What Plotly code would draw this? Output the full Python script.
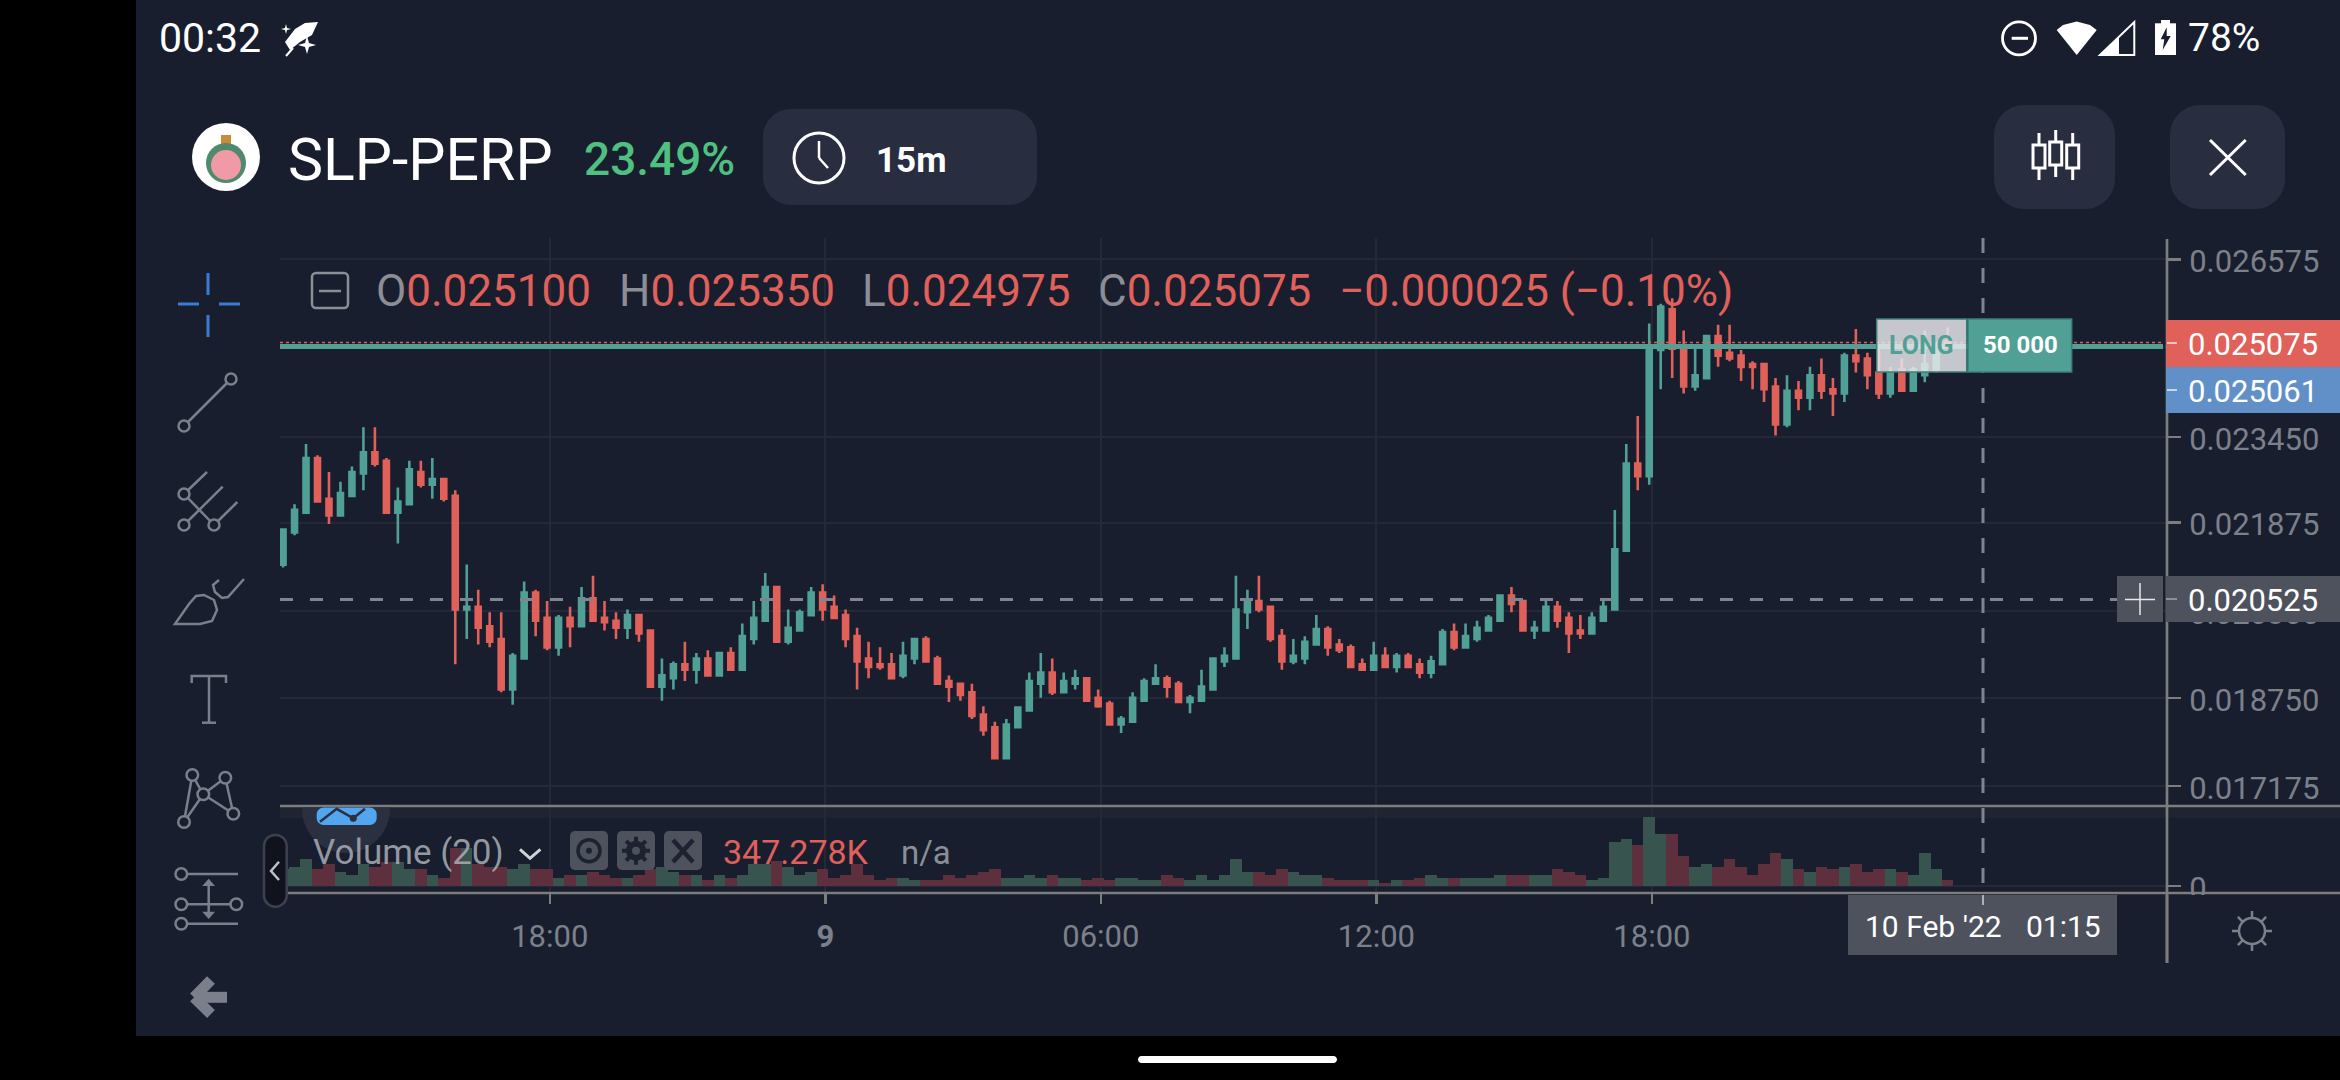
import math
import pandas as pd
from plotly.graph_objs import Figure, Candlestick, Bar

W, H = 2340, 1080
BG = '#181e2e'
BUTTON = '#282d40'
AXIS = '#7d7d7d'
GRID = '#232937'
GREY = '#8b8e96'
TICK_GREY = '#7c808a'
RED = '#e0605a'
GREEN = '#50a095'
BLUE = '#6190c8'
PANEL = '#4d525d'

# prices in millionths
OPEN = [
    21125, 21700, 22050, 23025, 22300, 22000, 22350, 22750, 23125, 22975,
    22050, 22200, 22775, 22550, 22650, 22350, 20325, 20375, 20025, 19800,
    18900, 19450, 20625, 20175, 19650, 20175, 20025, 20525, 20175, 20125,
    20000, 20225, 19950, 18950, 19100, 19350, 19250, 19450, 19150, 19550,
    19250, 19800, 20125, 20725, 19750, 19950, 20225, 20625, 20375, 20225,
    19850, 19450, 19350, 19350, 19150, 19450, 19800, 19450, 19050, 19000,
    18850, 18450, 18225, 17675, 18225, 18525, 19000, 19200, 18850, 19000,
    19100, 18750, 18650, 18275, 18325, 18700, 19000, 19100, 19000, 18675,
    18700, 18900, 19400, 19450, 20275, 20475, 20375, 19850, 19400, 19450,
    19700, 19975, 19700, 19650, 19350, 19250, 19500, 19300, 19500, 19350,
    19200, 19350, 19925, 19650, 19800, 19950, 20125, 20575, 20475, 19950,
    19950, 20375, 20175, 19950, 19900, 20125, 20325, 21375, 22925, 22700,
    24950, 25675, 25000, 24300, 24450, 25200, 24900, 24850, 24700, 24700,
    24300, 23625, 24225, 24100, 24500, 24250, 24175, 24850, 24800, 24550,
    24175, 24600, 24225, 24500, 24600, 25100,
]
HIGH = [
    21750, 22200, 23275, 23075, 22775, 22600, 22875, 23575, 23575, 23025,
    22500, 22975, 22975, 23025, 22675, 22450, 21125, 20675, 20275, 20275,
    19550, 20825, 20675, 20475, 20225, 20375, 20725, 20925, 20475, 20275,
    20325, 20225, 19950, 19450, 19400, 19750, 19550, 19600, 19550, 19650,
    20075, 20475, 20975, 20725, 20325, 20325, 20725, 20775, 20575, 20325,
    20000, 19750, 19650, 19550, 19750, 19800, 19850, 19500, 19150, 19000,
    19000, 18600, 18325, 18375, 18600, 19200, 19550, 19450, 19200, 19250,
    19100, 18900, 18700, 18425, 18850, 19100, 19350, 19150, 19050, 18800,
    19250, 19450, 19650, 20925, 20675, 20925, 20375, 19975, 19800, 19850,
    20225, 20025, 19800, 19700, 19450, 19750, 19650, 19550, 19550, 19450,
    19500, 19975, 20075, 20075, 20125, 20225, 20575, 20725, 20475, 20125,
    20525, 20475, 20275, 20225, 20275, 20475, 22100, 23275, 23775, 25425,
    25775, 25875, 25300, 25000, 25200, 25400, 25400, 24950, 24750, 24700,
    24450, 24500, 24400, 24650, 24800, 24450, 24900, 25325, 24900, 24975,
    24650, 24800, 24650, 25300, 25075, 25350,
]
LOW = [
    21075, 21650, 22050, 22250, 21850, 22000, 22350, 22450, 22875, 22050,
    21500, 22200, 22500, 22300, 22250, 19350, 19800, 19700, 19650, 18850,
    18625, 19450, 19850, 19600, 19500, 19650, 20025, 20100, 19950, 19800,
    19800, 19750, 18950, 18700, 18900, 19050, 19000, 19150, 19150, 19250,
    19250, 19700, 20125, 19750, 19700, 19950, 20225, 20125, 20175, 19650,
    18900, 19100, 19250, 19100, 19100, 19350, 19400, 19000, 18675, 18700,
    18375, 18075, 17675, 17675, 18225, 18525, 18750, 18800, 18850, 18900,
    18700, 18575, 18275, 18125, 18325, 18700, 19000, 18750, 18675, 18475,
    18700, 18900, 19300, 19450, 19975, 20275, 19750, 19250, 19350, 19350,
    19700, 19500, 19550, 19300, 19250, 19250, 19300, 19200, 19300, 19100,
    19100, 19350, 19600, 19650, 19750, 19950, 20125, 20275, 19950, 19800,
    19950, 20000, 19550, 19800, 19900, 20125, 20325, 21375, 22450, 22550,
    24250, 24450, 24175, 24225, 24450, 24650, 24750, 24400, 24250, 24025,
    23425, 23575, 23875, 23875, 24075, 23775, 24025, 24550, 24250, 24075,
    24100, 24225, 24225, 24375, 24550, 24975,
]
CLOSE = [
    21750, 22100, 23025, 22250, 22000, 22400, 22775, 23125, 22925, 22050,
    22250, 22825, 22550, 22650, 22300, 20325, 20375, 20000, 19750, 18900,
    19500, 20625, 20125, 19650, 20175, 20025, 20525, 20125, 20100, 20000,
    20225, 19900, 18950, 19150, 19350, 19250, 19450, 19150, 19550, 19250,
    19850, 20175, 20725, 19750, 20000, 20275, 20625, 20325, 20175, 19800,
    19400, 19300, 19300, 19100, 19500, 19800, 19400, 19000, 18950, 18800,
    18425, 18175, 17675, 18275, 18575, 19050, 19200, 18850, 19050, 19100,
    18700, 18600, 18275, 18375, 18750, 19050, 19100, 18950, 18675, 18750,
    18950, 19450, 19500, 20325, 20475, 20325, 19800, 19400, 19500, 19750,
    19975, 19650, 19600, 19300, 19250, 19500, 19300, 19500, 19300, 19200,
    19400, 19925, 19650, 19850, 20000, 20175, 20575, 20425, 19950, 20000,
    20375, 20125, 19900, 19900, 20175, 20375, 21400, 22925, 22700, 25000,
    25725, 24975, 24300, 24500, 25200, 24850, 24800, 24650, 24650, 24250,
    23625, 24225, 24100, 24500, 24225, 24175, 24850, 24750, 24500, 24175,
    24550, 24225, 24600, 24700, 24950, 25075,
]
# volume in thousands
VOLUME = [
    1020, 1183, 1673, 1020, 1326, 857, 673, 1326, 1163, 1469,
    1469, 1020, 1020, 673, 510, 2346, 2346, 1326, 1163, 1163,
    1020, 1326, 1020, 1020, 510, 673, 673, 857, 673, 510,
    510, 673, 1020, 1163, 857, 673, 673, 347, 673, 510,
    673, 1326, 1326, 1510, 1163, 673, 857, 1020, 510, 673,
    1326, 673, 347, 510, 510, 347, 347, 347, 673, 510,
    673, 857, 1020, 510, 510, 673, 510, 673, 510, 510,
    347, 510, 347, 510, 510, 347, 347, 673, 510, 347,
    673, 347, 673, 1673, 857, 857, 673, 1020, 857, 673,
    673, 510, 347, 347, 347, 347, 163, 347, 347, 510,
    673, 510, 510, 510, 510, 510, 673, 673, 673, 673,
    673, 1020, 857, 673, 347, 510, 2693, 2856, 2530, 4202,
    3203, 3203, 1856, 1163, 1346, 1183, 1673, 1183, 673, 1346,
    2020, 1673, 1020, 857, 1183, 1020, 1183, 1346, 857, 1020,
    1020, 857, 673, 2020, 1020, 347,
]
TIMES = pd.date_range('2022-02-08 12:15', periods=len(OPEN), freq='15min')

X_RANGE = ['2022-02-08 12:11:00', '2022-02-10 05:16:30']
X_TICKS = ['2022-02-08 18:03:30', '2022-02-09 00:03:30', '2022-02-09 06:03:30',
           '2022-02-09 12:03:30', '2022-02-09 18:03:30']
X_LABELS = ['18:00', '<b>9</b>', '06:00', '12:00', '18:00']
# the 0.025 tick sits behind the last price label, so it has no text
Y_TICKS = [26565, 25000, 23400, 21875, 20300, 18750, 17175]
Y_LABELS = ['0.026575', '', '0.023450', '0.021875', '0.020300', '0.018750', '0.017175']
Y_RANGE = [16822, 26947]
VOL_RANGE = [-428, 4896]


def px(x):
    return x / W


def py(y):
    return 1 - y / H


def path_of(points, close=True):
    text = 'M ' + ' L '.join(f'{px(x):.5f},{py(y):.5f}' for x, y in points)
    return text + (' Z' if close else '')


shapes = []
notes = []


def box(x0, y0, x1, y1, fill, layer='above', line=None, lw=0):
    shapes.append(dict(type='rect', xref='paper', yref='paper', x0=px(x0), x1=px(x1), y0=py(y0), y1=py(y1),
                       fillcolor=fill, layer=layer, line=dict(color=line, width=lw) if line else dict(width=0)))


def seg(x0, y0, x1, y1, color, lw=2.5, dash=None, layer='above'):
    shapes.append(dict(type='line', xref='paper', yref='paper', x0=px(x0), x1=px(x1), y0=py(y0), y1=py(y1),
                       layer=layer, line=dict(color=color, width=lw, dash=dash)))


def ring(cx, cy, r, color, lw=2.5, fill=BG):
    shapes.append(dict(type='circle', xref='paper', yref='paper', x0=px(cx - r), x1=px(cx + r), y0=py(cy + r),
                       y1=py(cy - r), fillcolor=fill, layer='above',
                       line=dict(color=color, width=lw) if lw else dict(width=0)))


def poly(points, fill, line=None, lw=0, close=True):
    shapes.append(dict(type='path', xref='paper', yref='paper', path=path_of(points, close), layer='above',
                       fillcolor=fill, line=dict(color=line, width=lw) if line else dict(width=0)))


def round_box(x0, y0, x1, y1, r, fill, line=None, lw=0, layer='above'):
    k = r * 0.45
    d = [f'M {px(x0 + r):.5f},{py(y0):.5f}', f'L {px(x1 - r):.5f},{py(y0):.5f}',
         f'C {px(x1 - k):.5f},{py(y0):.5f} {px(x1):.5f},{py(y0 + k):.5f} {px(x1):.5f},{py(y0 + r):.5f}',
         f'L {px(x1):.5f},{py(y1 - r):.5f}',
         f'C {px(x1):.5f},{py(y1 - k):.5f} {px(x1 - k):.5f},{py(y1):.5f} {px(x1 - r):.5f},{py(y1):.5f}',
         f'L {px(x0 + r):.5f},{py(y1):.5f}',
         f'C {px(x0 + k):.5f},{py(y1):.5f} {px(x0):.5f},{py(y1 - k):.5f} {px(x0):.5f},{py(y1 - r):.5f}',
         f'L {px(x0):.5f},{py(y0 + r):.5f}',
         f'C {px(x0):.5f},{py(y0 + k):.5f} {px(x0 + k):.5f},{py(y0):.5f} {px(x0 + r):.5f},{py(y0):.5f} Z']
    shapes.append(dict(type='path', xref='paper', yref='paper', path=' '.join(d), layer=layer, fillcolor=fill,
                       line=dict(color=line, width=lw) if line else dict(width=0)))


def label(x, y, text, size, color, anchor='left', family='Roboto', weight=None):
    font = dict(family=family, size=size, color=color)
    if weight:
        font['weight'] = weight
    notes.append(dict(x=px(x), y=py(y), xref='paper', yref='paper', text=text, showarrow=False, xanchor=anchor,
                      yanchor='middle', font=font, borderpad=0))


fig = Figure()
fig.set_subplots(rows=2, cols=1, shared_xaxes=True, row_heights=[0.85, 0.15], vertical_spacing=0.01)

fig.add_trace(Candlestick(
    x=TIMES, open=OPEN, high=HIGH, low=LOW, close=CLOSE, whiskerwidth=0, hoverinfo='skip',
    increasing=dict(line=dict(color=GREEN, width=2.6), fillcolor=GREEN),
    decreasing=dict(line=dict(color=RED, width=2.6), fillcolor=RED),
), row=1, col=1)

bar_colors = ['#38544f' if c >= o else '#5e2f3d' for o, c in zip(OPEN, CLOSE)]
fig.add_trace(Bar(x=TIMES, y=VOLUME, marker=dict(color=bar_colors, line=dict(width=0)), hoverinfo='skip'), row=2, col=1)

# app frame
box(0, 0, 136, H, '#000000', layer='below')
box(0, 1036, W, H, '#000000', layer='below')
box(280, 806, W, 818, '#1e2530', layer='below')
round_box(1138, 1056, 1337, 1063, 3.5, '#ffffff')

# status bar
label(158, 38, '00:32', 41, '#ffffff')
poly([(318, 22), (305, 23), (295, 29), (285, 42), (290, 50), (300, 42), (312, 35)], '#ffffff')
poly([(307, 36), (309, 43), (316, 45), (309, 47), (307, 54), (305, 47), (298, 45), (305, 43)], '#ffffff')
poly([(286, 24), (287, 28), (291, 29), (287, 30), (286, 34), (285, 30), (281, 29), (285, 28)], '#ffffff')
seg(293, 48, 286, 56, '#ffffff', 2)
ring(2019, 38.3, 16.5, '#ffffff', 2.8)
seg(2011.7, 38.3, 2028, 38.3, '#ffffff', 3)
poly([(2076.7, 55), (2056.7, 30), (2063, 25), (2076.7, 21.5), (2090, 25), (2096.7, 30)], '#ffffff')
poly([(2100, 55), (2134.3, 22), (2134.3, 55)], BG, '#ffffff', 2)
poly([(2100, 55), (2119, 37), (2119, 55)], '#ffffff')
box(2155, 23.3, 2176, 55, '#ffffff')
box(2161, 20, 2170, 24, '#ffffff')
poly([(2166.7, 27.3), (2160.7, 39.3), (2164.3, 39.3), (2162.7, 50), (2170.7, 36), (2166.7, 36)], BG)
label(2187, 38, '78%', 39, '#ffffff')

# header
ring(226, 157, 34, '#ffffff', 0, '#ffffff')
box(221, 135, 231, 146, '#c98b3a')
ring(226, 163, 20, '#4f8a6f', 0, '#4f8a6f')
ring(226, 165, 15, '#f09aa8', 0, '#f09aa8')
label(287, 159, 'SLP-PERP', 59, '#ffffff')
label(583, 159, '23.49%', 46, '#4fc07f', weight=500)
round_box(763, 109, 1037, 205, 28, BUTTON)
ring(819, 158, 25, '#ffffff', 3, BUTTON)
seg(819, 141, 819, 158, '#ffffff', 2.5)
seg(819, 158, 828, 168, '#ffffff', 2.5)
label(875, 160, '15m', 35, '#ffffff', weight=700)
round_box(1994, 105, 2115, 209, 30, BUTTON)
round_box(2170, 105, 2285, 209, 30, BUTTON)
for cx, top, bot, w0, w1 in [(2039, 145, 168, 133, 180), (2055.7, 142, 165, 130, 177), (2072.7, 145, 168, 133, 180)]:
    seg(cx, w0, cx, w1, '#ffffff', 3)
    box(cx - 6, top, cx + 6, bot, BUTTON, line='#ffffff', lw=3)
seg(2210, 140, 2245.7, 175, '#ffffff', 3)
seg(2210, 175, 2245.7, 140, '#ffffff', 3)

# drawing tools
TOOL = '#7b7f8b'
seg(208, 273, 208, 295, '#3a7bd5', 3)
seg(208, 315, 208, 337, '#3a7bd5', 3)
seg(178, 304, 199, 304, '#3a7bd5', 3)
seg(219, 304, 240, 304, '#3a7bd5', 3)
seg(184, 426, 231, 379, TOOL)
ring(231, 379, 5.5, TOOL)
ring(184, 426, 5.5, TOOL)
seg(184, 494, 214, 525, TOOL)
seg(184, 494, 207, 472, TOOL)
seg(184, 525, 222.7, 486.7, TOOL)
seg(214, 525, 237.3, 502, TOOL)
for cx, cy in [(184, 494), (184, 525), (214, 525)]:
    ring(cx, cy, 5.5, TOOL)
poly([(175, 624), (200, 624), (212, 621), (217, 610), (214, 600), (204, 595), (196, 596), (189, 604)], BG, TOOL, 2.5)
poly([(219, 580), (213, 585), (215, 592), (222, 598), (228, 597), (244, 579)], 'rgba(0,0,0,0)', TOOL, 2.5, close=False)
poly([(191.7, 683), (191.7, 676), (226, 676), (226, 683)], 'rgba(0,0,0,0)', TOOL, 2.5, close=False)
seg(209, 676, 209, 722, TOOL)
seg(202, 722.7, 216, 722.7, TOOL)
NODES = [(192.3, 775), (225.3, 777.7), (203.3, 794.3), (233.3, 813.7), (184, 822)]
for a, b in [(0, 4), (0, 2), (2, 4), (2, 1), (1, 3), (2, 3)]:
    seg(*NODES[a], *NODES[b], TOOL)
for cx, cy in NODES:
    ring(cx, cy, 5.8, TOOL)
for yy in (874, 904.3, 923.7):
    seg(181, yy, 238, yy, TOOL)
seg(208.7, 882, 208.7, 915, TOOL)
poly([(202.3, 886), (215, 886), (208.7, 878.7)], TOOL)
poly([(202.3, 911.7), (215, 911.7), (208.7, 919)], TOOL)
for cx, cy in [(181.3, 874), (181.3, 904.3), (236.3, 904.3), (181.3, 923.7)]:
    ring(cx, cy, 5.8, TOOL)
seg(195, 997.3, 227, 997.3, TOOL, 11)
seg(194, 997.3, 211, 980, TOOL, 11)
seg(194, 997.3, 211, 1014, TOOL, 11)

# OHLC legend
round_box(312, 273, 348, 308, 4, 'rgba(0,0,0,0)', line=GREY, lw=2.5)
seg(319, 291, 341, 291, GREY)
for x, letter, val in [(375, 'O', '0.025100'), (618, 'H', '0.025350'), (861, 'L', '0.024975'), (1097, 'C', '0.025075')]:
    label(x, 291, f'<span style="color:{GREY}">{letter}</span>{val}', 44, RED)
label(1338, 291, '−0.000025 (−0.10%)', 44, RED)

# chart overlays
seg(280, 346.5, 2163, 346.5, GREEN, 5)
seg(280, 342.5, 2163, 342.5, RED, 1.5, dash='dot')
seg(280, 599.5, 2117, 599.5, '#7f8590', 3, dash='13px,17px')
seg(1983, 238, 1983, 885, '#7f8590', 3, dash='15px,15px')
seg(280, 806, W, 806, AXIS, 2.7)
seg(285, 893, W, 893, AXIS, 2.7)
seg(2167, 239, 2167, 963, AXIS, 2.7)
box(1876.7, 319, 1966.7, 372, 'rgba(232,232,235,0.84)', line='#3d7f78', lw=1.5)
box(1968, 319, 2071.7, 372, '#50a095', line='#3d7f78', lw=1.5)
label(1921, 345, 'LONG', 25, GREEN, anchor='center', weight=700)
label(2020, 345, '50 000', 24, '#ffffff', anchor='center', weight=700)

# price labels
box(2166, 320, W, 367, RED)
box(2166, 367, W, 413, BLUE)
seg(2167, 343, 2177, 343, '#f0c0bc', 2)
seg(2167, 390, 2177, 390, '#c5d6ea', 2)
label(2187, 344, '0.025075', 31, '#ffffff')
label(2187, 391, '0.025061', 31, '#ffffff')
box(2166, 576, W, 622, PANEL)
box(2117, 576, 2163, 622, PANEL)
seg(2125, 599.5, 2155, 599.5, '#e8e8e8', 1.5)
seg(2140, 583, 2140, 615, '#e8e8e8', 1.5)
seg(2166, 599, 2177, 599, '#8a8f99', 2)
label(2187, 600, '0.020525', 31, '#ffffff')

# date label, covers the lower half of the volume zero as well
box(2170, 895, W, 962, BG)
seg(2167, 895, 2167, 963, AXIS, 2.7)
box(1848, 895, 2117, 955, PANEL)
seg(1983, 895, 1983, 905, '#d0d0d0', 1.5)
label(1864, 926, "10 Feb '22", 30, '#ffffff')
label(2025, 926, '01:15', 30, '#ffffff')

# sun toggle
for n in range(8):
    a = n * math.pi / 4
    seg(2252 + 13 * math.cos(a), 931 + 13 * math.sin(a), 2252 + 20 * math.cos(a), 931 + 20 * math.sin(a), TICK_GREY, 2.5)
ring(2252, 931, 13, TICK_GREY, 2.5)

# volume legend
round_box(264, 835, 286.7, 906.7, 11, '#10131e', line='#3b4150', lw=2.5)
poly([(279, 861.7), (271, 871), (279, 880)], 'rgba(0,0,0,0)', '#b8c4cc', 2.5, close=False)
shapes.append(dict(type='path', xref='paper', yref='paper', layer='above', fillcolor='#2b3040', line=dict(width=0),
                   path=f'M {px(302):.5f},{py(809):.5f} C {px(302):.5f},{py(833):.5f} {px(322):.5f},{py(853):.5f} '
                        f'{px(346):.5f},{py(853):.5f} C {px(370):.5f},{py(853):.5f} {px(390):.5f},{py(833):.5f} '
                        f'{px(390):.5f},{py(809):.5f} L {px(390):.5f},{py(807.5):.5f} L {px(302):.5f},{py(807.5):.5f} Z'))
round_box(316.7, 807.5, 376.7, 825, 7, '#52a6f0')
poly([(320, 821.7), (336.7, 808.8), (353.3, 818.3), (365, 808.8)], 'rgba(0,0,0,0)', '#2b3040', 2.5, close=False)
ring(353.3, 818.3, 3.5, '#2b3040', 0, '#2b3040')
label(312, 852, 'Volume (20)', 35, 'rgba(170,174,182,0.85)')
poly([(520, 849.3), (530, 858.3), (540.4, 849.3)], 'rgba(0,0,0,0)', '#d0d3d8', 3, close=False)
for x0 in (570, 617, 664):
    round_box(x0, 831, x0 + 38, 870, 5, PANEL)
ring(589, 850.7, 11, '#1c2230', 3.5, PANEL)
ring(589, 850.7, 3, '#1c2230', 0, '#1c2230')
for n in range(4):
    a = n * math.pi / 4
    seg(636 - 14 * math.cos(a), 850.7 - 14 * math.sin(a), 636 + 14 * math.cos(a), 850.7 + 14 * math.sin(a), '#1c2230', 4)
ring(636, 850.7, 10, '#1c2230', 0, '#1c2230')
ring(636, 850.7, 4, PANEL, 0, PANEL)
seg(673, 840, 693, 862, '#1c2230', 4.5)
seg(673, 862, 693, 840, '#1c2230', 4.5)
label(722, 852, '347.278K', 34, RED)
label(900, 852, 'n/a', 33, GREY)

fig.update_layout(
    width=W, height=H, autosize=False, margin=dict(l=0, r=0, t=0, b=0), showlegend=False, hovermode=False,
    paper_bgcolor=BG, plot_bgcolor='rgba(0,0,0,0)', boxgap=0.38, bargap=0, dragmode=False,
    font=dict(family='Roboto', color=TICK_GREY), shapes=shapes, annotations=notes,
)
axis_x = dict(
    domain=[px(280), px(2167)], range=X_RANGE, type='date', tickvals=X_TICKS, ticktext=X_LABELS, automargin=False,
    showgrid=True, gridcolor=GRID, gridwidth=2, zeroline=False, showline=False,
)
fig.update_xaxes(row=1, col=1, patch=dict(axis_x, showticklabels=False, ticks='', rangeslider=dict(visible=False)))
fig.update_xaxes(row=2, col=1, patch=dict(axis_x, ticks='outside', ticklen=10, tickwidth=2.5, tickcolor=AXIS,
                                          tickfont=dict(family='Roboto', size=31, color=TICK_GREY),
                                          ticklabelstandoff=6))
axis_y = dict(
    side='right', showgrid=True, gridcolor=GRID, gridwidth=2, zeroline=False, showline=False, ticks='outside',
    ticklen=13, tickwidth=2.5, tickcolor=AXIS, tickfont=dict(family='Roboto', size=31, color=TICK_GREY),
    ticklabelstandoff=2, ticklabelshift=2, automargin=False,
)
fig.update_yaxes(row=1, col=1, patch=dict(axis_y, domain=[py(806), py(238)], range=Y_RANGE,
                                          tickvals=Y_TICKS, ticktext=Y_LABELS))
fig.update_yaxes(row=2, col=1, patch=dict(axis_y, domain=[py(893), py(806)], range=VOL_RANGE,
                                          tickvals=[0], ticktext=['0']))

fig.write_html('out.html', config=dict(displayModeBar=False, staticPlot=True),
               post_script="document.body.style.margin='0';document.body.style.overflow='hidden';")
